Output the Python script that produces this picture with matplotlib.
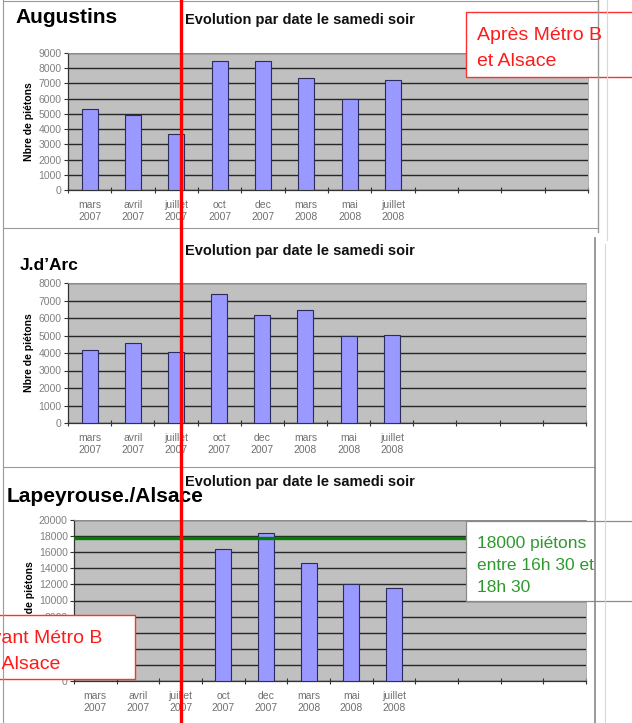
import numpy as np
import matplotlib.pyplot as plt
from matplotlib.patches import Rectangle

plt.rcParams['font.family'] = ['Liberation Sans', 'DejaVu Sans']

W, H = 632, 723

# données
dates = ['mars\n2007', 'avril\n2007', 'juillet\n2007', 'oct\n2007', 'dec\n2007',
         'mars\n2008', 'mai\n2008', 'juillet\n2008']
nb_cases = 12

augustins = [5350, 4950, 3700, 8450, 8450, 7350, 5950, 7200]
jdarc = [4150, 4600, 4050, 7400, 6150, 6450, 4950, 5050]
lapeyrouse = [np.nan, np.nan, np.nan, 16400, 18400, 14600, 12000, 11500]
seuil = 17800

titre = 'Evolution par date le samedi soir'

fig = plt.figure(figsize=(W / 100, H / 100), dpi=100)
fig.patch.set_facecolor('white')


def px_axes(x0, y0, x1, y1):
    return fig.add_axes([x0 / W, 1 - y1 / H, (x1 - x0) / W, (y1 - y0) / H])


def panel(box, valeurs, ymax, pas):
    ax = px_axes(*box)
    ax.set_facecolor('#c0c0c0')
    x = np.arange(len(valeurs))
    ax.bar(x, valeurs, width=0.37, color='#9999ff', edgecolor='#2b2b5e',
           linewidth=0.8, zorder=3)
    ax.set_xlim(-0.5, nb_cases - 0.5)
    ax.set_ylim(0, ymax)
    ax.set_yticks(np.arange(0, ymax + 1, pas))
    ax.yaxis.grid(True, color='#262626', linewidth=1.0)
    ax.set_axisbelow(True)
    ax.set_xticks(np.arange(-0.5, nb_cases, 1))
    ax.set_xticklabels([])
    ax.set_xticks(x, dates, minor=True)
    ax.tick_params(axis='x', which='minor', length=0, labelsize=7.5,
                   labelcolor='#707070', pad=7)
    for t in ax.get_xticklabels(minor=True):
        t.set_linespacing(1.3)
    ax.tick_params(axis='x', which='major', direction='inout', length=5,
                   color='#333333', width=0.8)
    ax.tick_params(axis='y', direction='out', length=3, color='#333333',
                   labelsize=7.5, labelcolor='#808080', pad=1.5)
    for s in ['top', 'right']:
        ax.spines[s].set_color('#a0a0a0')
        ax.spines[s].set_linewidth(0.6)
    for s in ['left', 'bottom']:
        ax.spines[s].set_color('#333333')
        ax.spines[s].set_linewidth(0.9)
    ax.set_ylabel('Nbre de piétons', fontsize=7.5, fontweight='bold', labelpad=3)
    return ax


ax1 = panel((68, 53, 588, 190), augustins, 9000, 1000)
ax2 = panel((68, 283, 586, 423), jdarc, 8000, 1000)
ax3 = panel((74, 520, 586, 681), lapeyrouse, 20000, 2000)

# ligne des 18000 piétons
ax3.axhline(seuil, xmin=0, xmax=(466 - 74) / (586 - 74), color='#008000',
            linewidth=2.4, zorder=5)

# calque pour les cadres, titres et annotations (coordonnées en pixels)
ov = fig.add_axes([0, 0, 1, 1])
ov.set_xlim(0, W)
ov.set_ylim(H, 0)
ov.axis('off')
ov.patch.set_alpha(0)
ov.set_zorder(10)

gris = '#9a9a9a'
ov.plot([3, 3], [0, H], color=gris, lw=0.8)
ov.plot([3, 598], [1, 1], color=gris, lw=0.8)
ov.plot([3, 598], [228, 228], color=gris, lw=0.8)
ov.plot([3, 595], [467, 467], color=gris, lw=0.8)
ov.plot([598, 598], [0, 232], color=gris, lw=1.0)
ov.plot([595, 595], [238, H], color='#888888', lw=1.2)
ov.plot([607, 607], [0, 240], color='#d8d8d8', lw=0.8)
ov.plot([605, 605], [244, H], color='#d8d8d8', lw=0.8)

# titres
for yc in (20, 251, 482):
    ov.text(300, yc, titre, ha='center', va='center', fontsize=10.5,
            fontweight='bold', color='#111111')
ov.text(15, 23, 'Augustins', fontsize=15, fontweight='bold', va='baseline')
ov.text(20, 270, 'J.d\u2019Arc', fontsize=12.5, fontweight='bold', va='baseline')
ov.text(7, 502, 'Lapeyrouse./Alsace', fontsize=15, fontweight='bold',
        va='baseline')

# encadré rouge en haut
ov.add_patch(Rectangle((466, 12), 170, 65, facecolor='white',
                       edgecolor='#ff3030', lw=1.0))
ov.text(477, 40, 'Après Métro B', color='#ff1a1a', fontsize=14, va='baseline')
ov.text(477, 66, 'et Alsace', color='#ff1a1a', fontsize=14, va='baseline')

# encadré rouge en bas (coupé à gauche)
ov.add_patch(Rectangle((-5, 615), 140, 64, facecolor='white',
                       edgecolor='#ff3030', lw=1.0))
ov.text(-21, 643, 'Avant Métro B', color='#ff1a1a', fontsize=14, va='baseline')
ov.text(-19, 669, 'et Alsace', color='#ff1a1a', fontsize=14, va='baseline')

# encadré vert
ov.add_patch(Rectangle((466, 521), 170, 80, facecolor='white',
                       edgecolor='#8a8a8a', lw=0.9))
for yb, ligne in zip((548, 570, 592), ('18000 piétons', 'entre 16h 30 et', '18h 30')):
    ov.text(477, yb, ligne, color='#2e9a2e', fontsize=12.5, va='baseline')

# trait rouge vertical
ov.plot([181, 181], [0, H], color='#ff0000', lw=2.4, zorder=20)

fig.savefig('out.png', dpi=100)
